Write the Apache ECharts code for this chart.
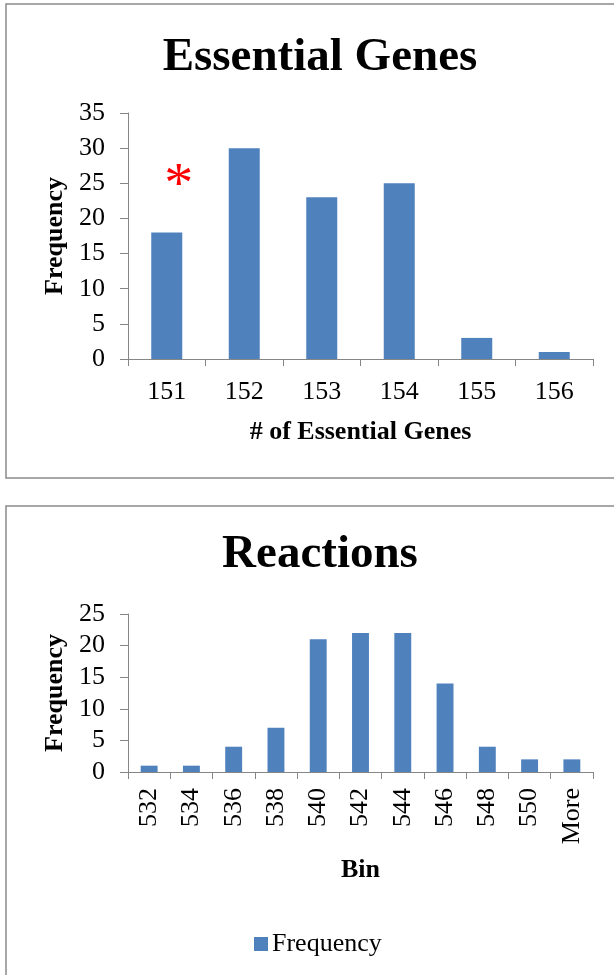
<!DOCTYPE html>
<html>
<head>
<meta charset="utf-8">
<script src="https://cdn.jsdelivr.net/npm/echarts@6/dist/echarts.min.js"></script>
<style>
  html, body { margin: 0; padding: 0; background: #fff; }
  #chart { width: 614px; height: 975px; }
</style>
</head>
<body>
<div id="chart"></div>
<script>
// Histogram of essential gene counts
const geneBins = ['151', '152', '153', '154', '155', '156'];
const geneFreq = [18, 30, 23, 25, 3, 1];

// Histogram of reaction counts
const reactionBins = ['532', '534', '536', '538', '540', '542', '544', '546', '548', '550', 'More'];
const reactionFreq = [1, 1, 4, 7, 21, 22, 22, 14, 4, 2, 2];

// Marked bin and the height of its asterisk
const markedBin = '151';
const markedLevel = 26;

const FONT = 'Liberation Serif';
const AXIS_GREY = '#868686';
const BAR_BLUE = '#4F81BD';

const chart = echarts.init(document.getElementById('chart'));

function valueAxis(gridIndex, max) {
  return {
    gridIndex: gridIndex,
    type: 'value',
    min: 0,
    max: max,
    interval: 5,
    name: 'Frequency',
    nameLocation: 'middle',
    nameGap: 55,
    nameTextStyle: { fontFamily: FONT, fontWeight: 'bold', fontSize: 26, color: '#000' },
    axisLine: { show: true, lineStyle: { color: AXIS_GREY, width: 1 } },
    axisTick: { show: true, length: 8, lineStyle: { color: AXIS_GREY } },
    axisLabel: { margin: 23, fontFamily: FONT, fontSize: 26, color: '#000' },
    splitLine: { show: false }
  };
}

function categoryAxis(gridIndex, data, name, nameGap, rotate, margin) {
  return {
    gridIndex: gridIndex,
    type: 'category',
    data: data,
    name: name,
    nameLocation: 'middle',
    nameGap: nameGap,
    nameTextStyle: { fontFamily: FONT, fontWeight: 'bold', fontSize: 26, color: '#000' },
    axisLine: { show: true, lineStyle: { color: AXIS_GREY, width: 1 } },
    axisTick: { show: true, length: 7, lineStyle: { color: AXIS_GREY } },
    axisLabel: { rotate: rotate, margin: margin, interval: 0, fontFamily: FONT, fontSize: 26, color: '#000' },
    splitLine: { show: false }
  };
}

chart.setOption({
  animation: false,
  backgroundColor: '#fff',
  title: [
    {
      text: 'Essential Genes',
      left: 315, top: 29, textAlign: 'center',
      textStyle: { fontFamily: FONT, fontWeight: 'bold', fontSize: 47, color: '#000' }
    },
    {
      text: 'Reactions',
      left: 315, top: 526, textAlign: 'center',
      textStyle: { fontFamily: FONT, fontWeight: 'bold', fontSize: 47, color: '#000' }
    }
  ],
  legend: {
    data: ['Frequency'],
    left: 249, top: 926,
    itemWidth: 14, itemHeight: 14, itemGap: 5,
    icon: 'rect',
    textStyle: { fontFamily: FONT, fontSize: 26, color: '#000', padding: [0, 0, 0, -1] }
  },
  graphic: [
    { type: 'rect', shape: { x: 6, y: 4, width: 612, height: 474 },
      style: { fill: 'none', stroke: '#8a8a8a', lineWidth: 1.5 }, silent: true },
    { type: 'rect', shape: { x: 6, y: 506, width: 612, height: 500 },
      style: { fill: 'none', stroke: '#8a8a8a', lineWidth: 1.5 }, silent: true }
  ],
  grid: [
    { left: 128, top: 113, width: 465, height: 246 },
    { left: 128, top: 614, width: 465, height: 158 }
  ],
  xAxis: [
    categoryAxis(0, geneBins, '# of Essential Genes', 60, 0, 20),
    categoryAxis(1, reactionBins, 'Bin', 85, 90, 16)
  ],
  yAxis: [
    valueAxis(0, 35),
    valueAxis(1, 25)
  ],
  series: [
    {
      name: 'Essential Genes',
      type: 'bar',
      xAxisIndex: 0, yAxisIndex: 0,
      data: geneFreq,
      barCategoryGap: '60%',
      itemStyle: { color: BAR_BLUE },
      markPoint: {
        symbol: 'circle',
        symbolSize: 0,
        data: [{ coord: [markedBin, markedLevel] }],
        label: {
          show: true,
          formatter: '*',
          position: 'inside',
          offset: [12, 11],
          fontFamily: FONT,
          fontSize: 58,
          color: '#FF0000'
        }
      }
    },
    {
      name: 'Frequency',
      type: 'bar',
      xAxisIndex: 1, yAxisIndex: 1,
      data: reactionFreq,
      barCategoryGap: '60%',
      itemStyle: { color: BAR_BLUE }
    }
  ]
});
</script>
</body>
</html>
